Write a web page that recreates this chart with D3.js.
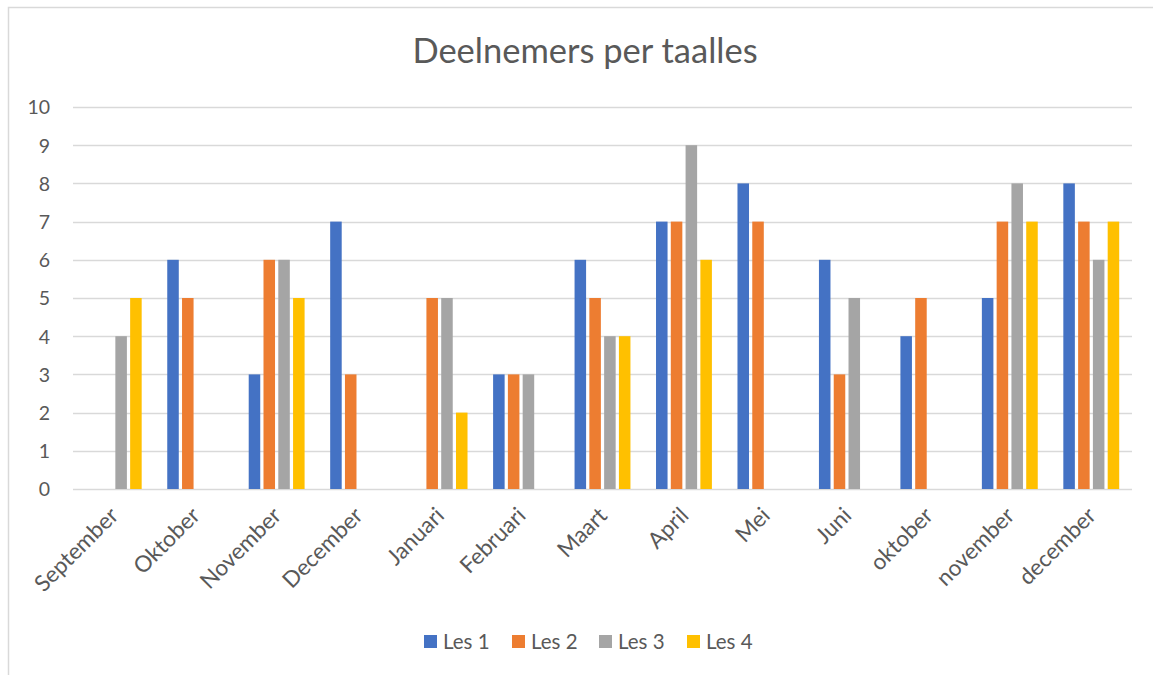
<!DOCTYPE html>
<html>
<head>
<meta charset="utf-8">
<script src="https://cdn.jsdelivr.net/npm/d3@7"></script>
<style>
  html, body { margin: 0; padding: 0; background: #fff; }
  svg { display: block; }
  text { font-family: Lato, "Open Sans", sans-serif; fill: #595959; }
</style>
</head>
<body>
<svg id="chart" width="1153" height="675"></svg>
<script>
const title = "Deelnemers per taalles";
const categories = ["September","Oktober","November","December","Januari","Februari","Maart","April","Mei","Juni","oktober","november","december"];
const seriesNames = ["Les 1","Les 2","Les 3","Les 4"];
const les1 = [0,6,3,7,0,3,6,7,8,6,4,5,8];
const les2 = [0,5,6,3,5,3,5,7,7,3,5,7,7];
const les3 = [4,0,6,0,5,3,4,9,0,5,0,8,6];
const les4 = [5,0,5,0,2,0,4,6,0,0,0,7,7];
const seriesValues = [les1, les2, les3, les4];
const colors = ["#4472C4","#ED7D31","#A5A5A5","#FFC000"];
const yTicks = [0,1,2,3,4,5,6,7,8,9,10];

const svg = d3.select("#chart");
const W = 1153, H = 675;
const plot = {left: 73, right: 1132, top: 107, bottom: 489};

// chart border (only top and left visible in the crop)
svg.append("rect").attr("x", 8.5).attr("y", 7.5).attr("width", W + 10).attr("height", H + 10)
  .attr("fill", "none").attr("stroke", "#D9D9D9").attr("stroke-width", 1.5);

svg.append("text").attr("x", 585).attr("y", 63).attr("text-anchor", "middle")
  .style("font-size", "34.5px").text(title);

const x0 = d3.scaleBand().domain(categories).range([plot.left, plot.right]).padding(0);
const bw = x0.bandwidth();
const outer = bw * 0.157;
const x1 = d3.scaleBand().domain(seriesNames).range([outer, bw - outer]).paddingInner(0.22).paddingOuter(0);
const y = d3.scaleLinear().domain([0, 10]).range([plot.bottom, plot.top]);

// gridlines
svg.append("g").selectAll("line").data(yTicks).join("line")
  .attr("x1", plot.left).attr("x2", plot.right)
  .attr("y1", d => Math.round(y(d)) + 0.5).attr("y2", d => Math.round(y(d)) + 0.5)
  .attr("stroke", "#D9D9D9").attr("stroke-width", 1.5);

// y axis labels
const yAxis = d3.axisLeft(y).tickValues(yTicks).tickSize(0).tickPadding(0);
const yg = svg.append("g").attr("transform", `translate(${plot.left - 23},0)`).call(yAxis);
yg.select(".domain").remove();
yg.selectAll("text").style("font-size", "19.5px").attr("fill", "#595959")
  .style("font-family", "Lato, 'Open Sans', sans-serif").attr("dy", "0.35em");

// bars
const g = svg.append("g");
categories.forEach((c, i) => {
  seriesNames.forEach((s, j) => {
    const v = seriesValues[j][i];
    if (v <= 0) return;
    g.append("rect")
      .attr("x", x0(c) + x1(s))
      .attr("y", y(v))
      .attr("width", x1.bandwidth())
      .attr("height", y(0) - y(v))
      .attr("fill", colors[j]);
  });
});

// x axis labels
const xAxis = d3.axisBottom(x0).tickSize(0).tickPadding(0);
const xg = svg.append("g").attr("transform", `translate(0,${plot.bottom})`).call(xAxis);
xg.select(".domain").remove();
xg.selectAll(".tick text")
  .style("font-size", "22.5px").attr("fill", "#595959")
  .style("font-family", "Lato, 'Open Sans', sans-serif")
  .attr("text-anchor", "end")
  .attr("dy", null).attr("y", null)
  .attr("transform", "translate(6,28) rotate(-45)");

// legend
const legX = [424, 512, 599, 687];
const lg = svg.append("g");
seriesNames.forEach((s, j) => {
  lg.append("rect").attr("x", legX[j]).attr("y", 635).attr("width", 13).attr("height", 13).attr("fill", colors[j]);
  lg.append("text").attr("x", legX[j] + 19).attr("y", 642).attr("dy", "0.35em")
    .style("font-size", "20.5px").text(s);
});
</script>
</body>
</html>
